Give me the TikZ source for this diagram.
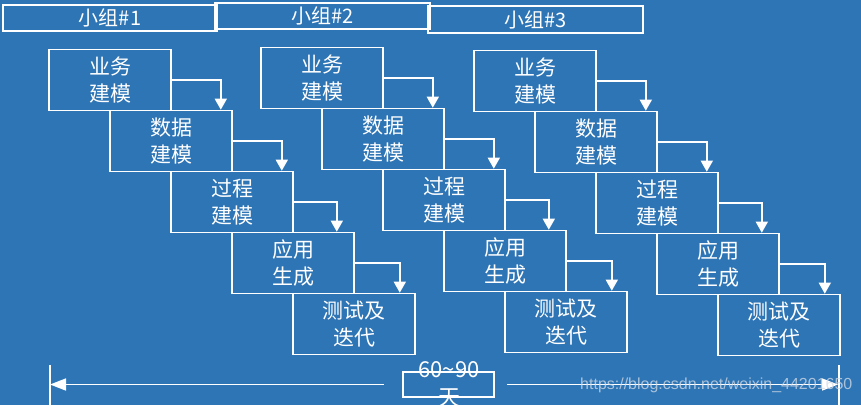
\documentclass[tikz,border=0pt]{standalone}
\usepackage{fontspec}
\setmainfont{Noto Sans CJK SC}
\newfontfamily\wmfont{Liberation Sans}
\usetikzlibrary{arrows.meta}
\definecolor{bg}{HTML}{2E75B6}
\definecolor{wmgray}{HTML}{D4DCE6}
\begin{document}
\begin{tikzpicture}[x=1pt,y=-1pt,
  box/.style={draw=white, line width=1.6pt, minimum width=122pt, minimum height=61pt,
    inner sep=0pt, align=center, text=white, font=\fontsize{21}{27}\selectfont},
  hdr/.style={draw=white, line width=1.6pt, minimum width=214pt, minimum height=26pt,
    inner sep=0pt, text=white, font=\fontsize{20}{20}\selectfont},
  flow/.style={draw=white, line width=1.6pt, -{Triangle[length=11pt,width=12pt]}},
  span/.style={draw=white, line width=1.6pt, -{Triangle[length=16pt,width=12pt]}},
  bar/.style={draw=white, line width=1.6pt}]
\fill[bg] (0,0) rectangle (861,405);
\useasboundingbox (0,0) rectangle (861,405);

% headers
\node[hdr] (h1) at (110,18) {小组\#1};
\node[hdr, minimum width=215pt] (h2) at (322.5,16) {小组\#2};
\node[hdr, minimum width=215pt, minimum height=27pt] (h3) at (535.5,19.5) {小组\#3};

% groups
\foreach \g/\dx/\dy in {1/0/0, 2/212/-2, 3/425/1} {
  \node[box] (b\g a) at (110+\dx, 80+\dy) {业务\\建模};
  \node[box] (b\g b) at (171+\dx, 141+\dy) {数据\\建模};
  \node[box] (b\g c) at (232+\dx, 202+\dy) {过程\\建模};
  \node[box] (b\g d) at (293+\dx, 263+\dy) {应用\\生成};
  \node[box] (b\g e) at (354+\dx, 324+\dy) {测试及\\迭代};
  \draw[flow] (b\g a.east) -| ([xshift=-12pt]b\g b.north east);
  \draw[flow] (b\g b.east) -| ([xshift=-12pt]b\g c.north east);
  \draw[flow] (b\g c.east) -| ([xshift=-18pt]b\g d.north east);
  \draw[flow] (b\g d.east) -| ([xshift=-16pt]b\g e.north east);
}

% timeline
\node[draw=white, line width=1.6pt, minimum width=91pt, minimum height=25pt, inner sep=0pt] (dur) at (448.5,384.5) {};
\node[text=white, align=center, font=\fontsize{22}{28}\selectfont, inner sep=0pt] (durt) at (449,384) {60\textasciitilde 90\\天};
\coordinate (Lt) at (50,365);
\coordinate (Lb) at (50,405);
\coordinate (Rt) at (839,365);
\coordinate (Rb) at (839,405);
\coordinate (L) at (50,384.5);
\coordinate (R) at (838,384.5);
\draw[bar] (Lt) -- (Lb);
\draw[bar] (Rt) -- (Rb);
\draw[span] ([xshift=-18pt]dur.west) -- (L);
\draw[span] ([xshift=12pt]dur.east) -- (R);

% watermark
\node[text=wmgray, opacity=0.75, font=\wmfont\fontsize{16}{16}\selectfont, anchor=west, inner sep=0pt] (wm) at (580,385) {https://blog.csdn.net/weixin\_44201650};
\end{tikzpicture}
\end{document}
